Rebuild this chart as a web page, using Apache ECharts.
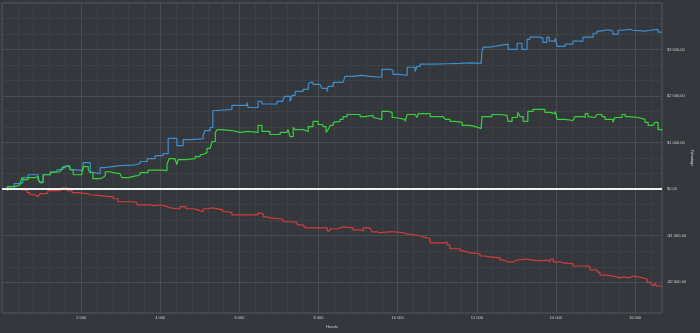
<!DOCTYPE html>
<html>
<head>
<meta charset="utf-8">
<title>Winnings</title>
<script src="https://cdn.jsdelivr.net/npm/echarts@6/dist/echarts.min.js"></script>
<style>
  html, body { margin: 0; padding: 0; background: #34373b; }
  #chart { width: 700px; height: 333px; }
</style>
</head>
<body>
<div id="chart"></div>
<script>
// Axis ticks
const handTicks = [2000, 4000, 6000, 8000, 10000, 12000, 14000, 16000];
const winTicks = [-2000, -1000, 0, 1000, 2000, 3000];

// Blue series: hand number / winnings ($)
const blueHands = [0,130,310,460,530,660,910,940,1040,1220,1390,1540,1590,1720,1800,2050,2230,2280,2480,2580,2980,3310,3490,3670,3870,4070,4200,4420,4580,4750,5080,5130,5260,5330,5440,5810,6190,6220,6470,6570,6950,7100,7150,7280,7330,7410,7610,7740,7790,7860,8040,8090,8220,8240,8370,8620,8670,8850,9100,9300,9600,9810,9880,10060,10240,10440,10490,10570,10940,11250,11580,11830,12110,12130,12160,12330,12590,12790,13020,13140,13270,13340,13600,13670,13770,13830,13980,14030,14230,14430,14680,14940,15040,15110,15320,15440,15570,15670,15870,15950,16250,16380,16580,16680];
const blueWin = [0,55,120,140,250,310,270,160,310,375,420,485,505,420,400,570,375,335,465,505,515,550,595,655,720,765,1090,935,1065,1080,1155,1260,1325,1690,1715,1800,1865,1755,1885,1830,1885,1930,1995,1885,2015,2100,2145,2250,2295,2250,2210,2165,2100,2210,2295,2315,2425,2445,2425,2405,2575,2555,2465,2445,2620,2530,2640,2685,2695,2705,2715,2705,2715,2965,3050,3090,3115,3005,3135,3005,3220,3265,3245,3155,3265,3180,3245,3070,3115,3180,3265,3350,3395,3425,3395,3330,3415,3435,3415,3395,3415,3435,3375,3375];

// Green series
const greenHands = [0,80,150,330,380,460,510,530,660,840,910,960,1040,1220,1270,1470,1520,1590,1650,1720,1800,2020,2050,2180,2230,2300,2480,2550,2610,2730,2810,2980,3030,3190,3410,3490,3690,4070,4170,4220,4370,4420,4450,4630,4880,5010,5080,5180,5260,5310,5390,5440,5560,5810,6020,6220,6270,6470,6570,6770,7030,7200,7230,7280,7360,7410,7610,7740,7860,7990,8110,8190,8240,8290,8370,8420,8540,8620,8720,9050,9180,9380,9430,9600,9760,9860,9930,10190,10240,10440,10490,10520,10740,10820,11150,11200,11320,11450,11630,11830,11960,12110,12130,12380,12590,12760,12790,12890,13020,13040,13090,13170,13290,13420,13600,13650,13720,13850,13980,14030,14230,14430,14480,14680,14740,14810,14860,14990,15040,15160,15240,15440,15490,15670,15750,15870,16070,16250,16330,16450,16500,16580,16680];
const greenWin = [0,-20,55,75,95,140,250,205,250,270,205,140,310,355,375,355,465,505,465,420,310,375,485,420,355,225,250,290,375,355,335,310,250,290,310,355,410,400,530,655,680,530,635,655,700,745,785,875,915,1025,1220,1280,1260,1220,1240,1280,1220,1370,1240,1175,1220,1240,1280,1130,1325,1280,1240,1345,1455,1390,1345,1220,1280,1370,1435,1455,1500,1560,1605,1560,1585,1540,1500,1670,1650,1540,1500,1455,1605,1625,1540,1625,1625,1560,1540,1500,1455,1435,1370,1345,1305,1280,1560,1605,1585,1560,1455,1540,1560,1650,1560,1455,1670,1715,1755,1715,1650,1625,1670,1500,1475,1500,1560,1540,1625,1560,1540,1560,1605,1560,1500,1435,1540,1605,1560,1540,1500,1435,1370,1345,1435,1280,1260];

// Red series
const redHands = [0,460,530,630,710,840,910,960,1140,1170,1470,1520,1590,1650,1770,1920,2150,2230,2480,2730,2810,2930,3030,3310,3410,3690,3870,4000,4170,4250,4420,4500,4580,4650,4830,4930,5010,5080,5210,5310,5560,5590,5710,5810,6190,6270,6320,6470,6520,6600,6700,6770,7030,7100,7360,7460,7610,7660,8110,8220,8290,8490,8620,8800,8870,9050,9130,9300,9350,9480,9550,9810,9880,10140,10240,10570,10640,10740,10820,11070,11150,11250,11320,11580,11650,11750,11830,12010,12080,12210,12330,12590,12660,12790,12840,12920,13020,13270,13340,13600,13670,13770,13850,13930,14100,14180,14360,14430,14790,14860,15040,15110,15290,15540,15620,15700,15870,15920,15950,16200,16300,16380,16430,16500,16550,16680];
const redWin = [0,-10,-30,-75,-120,-160,-140,-95,-75,-30,-30,30,30,-30,-75,-95,-120,-140,-160,-160,-205,-270,-270,-290,-335,-355,-335,-375,-400,-420,-420,-375,-375,-420,-440,-465,-485,-420,-400,-440,-440,-485,-505,-550,-550,-570,-550,-505,-530,-595,-615,-635,-655,-700,-720,-765,-765,-830,-830,-895,-850,-810,-820,-830,-875,-895,-830,-850,-915,-935,-915,-915,-935,-960,-1000,-1025,-1045,-1065,-1155,-1155,-1140,-1195,-1280,-1325,-1345,-1370,-1380,-1390,-1435,-1455,-1475,-1520,-1560,-1585,-1560,-1520,-1500,-1520,-1540,-1540,-1520,-1560,-1500,-1560,-1585,-1595,-1605,-1650,-1670,-1735,-1780,-1845,-1885,-1905,-1885,-1905,-1885,-1865,-1905,-1930,-1995,-2035,-2060,-2015,-2080,-2100];

const HAND_MAX = 16680;
const WIN_MIN = -2660;
const WIN_MAX = 4000;

// Minor grid positions between the labelled ticks
const handMinor = [];
for (let h = 400; h < HAND_MAX; h += 400) if (h % 2000 !== 0) handMinor.push(h);
const winMinor = [];
for (let k = -2000; k < WIN_MAX; k += 1000) {
  winMinor.push(k + 1000 / 3, k + 2000 / 3);
}

function zip(xs, ys) { return xs.map((x, i) => [x, ys[i]]); }
function spaced(n) { return String(Math.abs(Math.round(n))).replace(/\B(?=(\d{3})+(?!\d))/g, ' '); }

const TEXT = '#c9cbcd';
const MAJOR = '#4a4e52';
const MINOR = '#3d4044';
const FONT = 'Liberation Sans';

const chart = echarts.init(document.getElementById('chart'), null, { renderer: 'canvas' });

chart.setOption({
  backgroundColor: '#34373b',
  animation: false,
  grid: {
    left: 2, right: 38, top: 3, bottom: 20,
    containLabel: false, outerBoundsMode: 'none',
    show: true, borderColor: '#55595d', borderWidth: 1, backgroundColor: 'transparent'
  },
  xAxis: [
    {
      type: 'value', min: 0, max: HAND_MAX, position: 'bottom',
      axisLine: { show: false },
      axisTick: { show: false, customValues: handTicks },
      axisLabel: {
        customValues: handTicks, color: TEXT, fontSize: 4, fontFamily: FONT, margin: 3,
        formatter: v => spaced(v)
      },
      splitLine: { show: true, lineStyle: { color: MAJOR, width: 1 } },
      name: 'Hands', nameLocation: 'middle', nameGap: 12, nameMoveOverlap: false,
      nameTextStyle: { color: TEXT, fontSize: 4, fontFamily: FONT }
    },
    {
      type: 'value', min: 0, max: HAND_MAX, position: 'bottom',
      axisLine: { show: false },
      axisTick: { show: false, customValues: handMinor },
      axisLabel: { show: false },
      splitLine: { show: true, lineStyle: { color: MINOR, width: 1 } }
    }
  ],
  yAxis: [
    {
      type: 'value', min: WIN_MIN, max: WIN_MAX, position: 'right',
      axisLine: { show: false },
      axisTick: { show: false, customValues: winTicks },
      axisLabel: {
        customValues: winTicks, color: TEXT, fontSize: 4, fontFamily: FONT, margin: 5,
        formatter: v => (v < 0 ? '-' : '') + '$' + spaced(v) + ',00'
      },
      splitLine: { show: true, lineStyle: { color: MAJOR, width: 1 } },
      name: 'Winnings', nameLocation: 'middle', nameGap: 30, nameRotate: -90, nameMoveOverlap: false,
      nameTextStyle: { color: TEXT, fontSize: 4, fontFamily: FONT, align: 'center', verticalAlign: 'middle' }
    },
    {
      type: 'value', min: WIN_MIN, max: WIN_MAX, position: 'right',
      axisLine: { show: false },
      axisTick: { show: false, customValues: winMinor },
      axisLabel: { show: false },
      splitLine: { show: true, lineStyle: { color: MINOR, width: 1 } }
    }
  ],
  series: [
    {
      name: 'Blue', type: 'line', step: 'end', showSymbol: false, symbol: 'none',
      data: zip(blueHands, blueWin),
      lineStyle: { color: '#3d8fcf', width: 1.2 }
    },
    {
      name: 'Green', type: 'line', step: 'end', showSymbol: false, symbol: 'none',
      data: zip(greenHands, greenWin),
      lineStyle: { color: '#35d13a', width: 1.2 }
    },
    {
      name: 'Red', type: 'line', step: 'end', showSymbol: false, symbol: 'none',
      data: zip(redHands, redWin),
      lineStyle: { color: '#d23c3e', width: 1.2 },
      markLine: {
        silent: true, symbol: 'none', label: { show: false },
        lineStyle: { color: '#f2f2f2', width: 2, type: 'solid' },
        data: [{ yAxis: 0 }]
      }
    }
  ]
});
</script>
</body>
</html>
